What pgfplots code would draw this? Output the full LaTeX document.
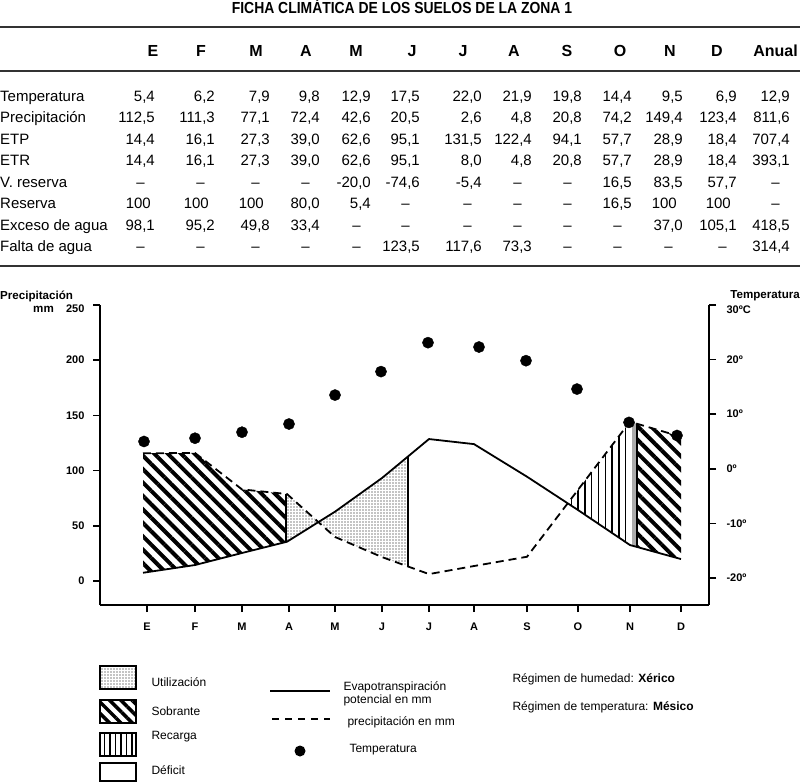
\documentclass[border=0pt]{standalone}
\usepackage{fontspec}
\setmainfont{Liberation Sans}
\newfontfamily\condfont{Liberation Sans}[FakeStretch=0.87]
\usepackage{pgfplots}
\usepackage{pgfplotstable}
\pgfplotsset{compat=1.18}
\usepgfplotslibrary{fillbetween}
\usetikzlibrary{patterns.meta}
\newcommand\fs[1]{\fontsize{#1}{#1}\selectfont}
\def\cols{{155,215,270,320,371,420,482,532,582,632,683,737,790}}
\newcommand\tabrow[3]{%
  \node[anchor=base west, inner sep=0] at (0,#1) {\fs{15}#2};
  \foreach \v/\dx [count=\i from 0] in {#3} {
    \pgfmathsetmacro\cx{\cols[\i]}
    \node[anchor=base east, inner sep=0] at (\cx+\dx,#1) {\fs{15}\v};
  }
}
\pgfplotstableread{
x etp prec
143 7.5 115.7
195 14.5 116
242 25.4 83
287 35.6 78.8
335 62.8 39.9
382 93.3 21.7
429 128.6 6.3
474 124.0 13.6
527 94.5 22
578 64.3 82.6
630 32.6 144.3
681 19.9 130.7
}\curves
\pgfplotstableread{
x t
144 5.0
195 5.6
242 6.7
289 8.2
335 13.5
381 17.8
428 23.1
479 22.3
526 19.8
577 14.6
629 8.5
677 6.1
}\temps
\begin{document}
\begin{tikzpicture}
\begin{scope}[x=1pt,y=-1pt]
\path[use as bounding box] (0,0) rectangle (803,783);
\node[anchor=base, inner sep=0] at (402,14) {\condfont\bfseries\fs{16}FICHA CLIMÁTICA DE LOS SUELOS DE LA ZONA 1};
\draw[line width=1.6pt, black!80] (0,27) -- (800,27);
\draw[line width=1.6pt, black!80] (0,71) -- (800,71);
\draw[line width=1.6pt, black!80] (0,266) -- (800,266);
\foreach \h/\x in {E/153,F/201,M/256,A/306,M/356,J/412,J/463,A/514,S/567,O/620,N/670,D/717}
  \node[anchor=base, inner sep=0] at (\x,57) {\fs{16}\bfseries\h};
\node[anchor=base east, inner sep=0] at (798,57) {\fs{16}\bfseries Anual};
\tabrow{101.3}{Temperatura}{{5,4}/0,{6,2}/0,{7,9}/0,{9,8}/0,{12,9}/0,{17,5}/0,{22,0}/0,{21,9}/0,{19,8}/0,{14,4}/0,{9,5}/0,{6,9}/0,{12,9}/0}
\tabrow{122.8}{Precipitación}{{112,5}/0,{111,3}/0,{77,1}/0,{72,4}/0,{42,6}/0,{20,5}/0,{2,6}/0,{4,8}/0,{20,8}/0,{74,2}/0,{149,4}/0,{123,4}/0,{811,6}/0}
\tabrow{144.3}{ETP}{{14,4}/0,{16,1}/0,{27,3}/0,{39,0}/0,{62,6}/0,{95,1}/0,{131,5}/0,{122,4}/0,{94,1}/0,{57,7}/0,{28,9}/0,{18,4}/0,{707,4}/0}
\tabrow{165.8}{ETR}{{14,4}/0,{16,1}/0,{27,3}/0,{39,0}/0,{62,6}/0,{95,1}/0,{8,0}/0,{4,8}/0,{20,8}/0,{57,7}/0,{28,9}/0,{18,4}/0,{393,1}/0}
\tabrow{187.3}{V. reserva}{–/-10,–/-10,–/-10,–/-10,{-20,0}/0,{-74,6}/0,{-5,4}/0,–/-10,–/-10,{16,5}/0,{83,5}/0,{57,7}/0,–/-10}
\tabrow{208.8}{Reserva}{100/-4,100/-6,100/-6,{80,0}/0,{5,4}/0,–/-10,–/-10,–/-10,–/-10,{16,5}/0,100/-6,100/-6,–/-10}
\tabrow{230.3}{Exceso de agua}{{98,1}/0,{95,2}/0,{49,8}/0,{33,4}/0,–/-10,–/-10,–/-10,–/-10,–/-10,–/-10,{37,0}/0,{105,1}/0,{418,5}/0}
\tabrow{251.8}{Falta de agua}{–/-10,–/-10,–/-10,–/-10,–/-10,{123,5}/0,{117,6}/0,{73,3}/0,–/-10,–/-10,–/-10,–/-10,{314,4}/0}
% axis titles
\node[anchor=west, inner sep=0] at (0,296) {\fs{11.6}\bfseries Precipitación};
\node[anchor=west, inner sep=0] at (33,309) {\fs{11.6}\bfseries mm};
\node[anchor=east, inner sep=0] at (800,296) {\fs{11.6}\bfseries Temperatura};
% legend
\draw[line width=1.3pt, pattern={Dots[distance=3pt,radius=0.6pt]}] (100,666) rectangle (136,689);
\draw[line width=1.3pt, pattern={Lines[angle=-45,distance=8pt,line width=3.5pt]}] (100,700) rectangle (136,723);
\draw[line width=1.3pt, pattern={Lines[angle=90,distance=5.5pt,line width=1.3pt]}] (100,733) rectangle (136,756);
\draw[line width=1.3pt] (100,763) rectangle (136,781);
\node[anchor=west] at (148,682) {\fs{12}Utilización};
\node[anchor=west] at (148,711) {\fs{12}Sobrante};
\node[anchor=west] at (148,737) {\fs{12}Recarga};
\node[anchor=west] at (148,770) {\fs{12}Déficit};
\draw[line width=1.8pt] (270,691) -- (330,691);
\draw[line width=1.8pt, dash pattern=on 7pt off 6pt] (272,719) -- (330,719);
\fill (300,751) circle (5.5);
\node[anchor=west] at (340,687) {\fs{12}Evapotranspiración};
\node[anchor=west] at (340,700) {\fs{12}potencial en mm};
\node[anchor=west] at (344,722) {\fs{12}precipitación en mm};
\node[anchor=west] at (346,750) {\fs{12}Temperatura};
\node[anchor=west] at (509,679) {\fs{12}Régimen de humedad: \textbf{Xérico}};
\node[anchor=west] at (509,707) {\fs{12}Régimen de temperatura: \textbf{Mésico}};
\end{scope}

\begin{axis}[
  at={(100pt,-605pt)}, anchor=south west, scale only axis,
  width=609pt, height=300pt,
  xmin=100, xmax=709, ymin=-21.7, ymax=250,
  axis x line*=bottom, axis y line*=left,
  axis line style={-, line width=1.8pt},
  xtick={147,195,242,289,335,382,429,474,527,578,630,681},
  xticklabels={E,F,M,A,M,J,J,A,S,O,N,D},
  ytick={0,50,100,150,200,250},
  yticklabels={0,50,100,150,200,\raisebox{-4pt}[8pt][0pt]{250}},
  tick align=outside, major tick length=7pt,
  tick style={line width=1.5pt, black},
  ticklabel style={font=\bfseries\fs{11}},
  xticklabel style={yshift=-7pt},
  yticklabel style={xshift=-5pt},
  clip=false,
]
\addplot[name path=etp, draw=none] table[x=x,y=etp]{\curves};
\addplot[name path=prec, draw=none] table[x=x,y=prec]{\curves};
\addplot[draw=none, pattern={Lines[angle=-45,distance=9.5pt,line width=4pt]}] fill between[of=prec and etp, soft clip={domain=143:286}];
\addplot[draw=none, pattern={Dots[distance=3pt,radius=0.6pt]}] fill between[of=prec and etp, soft clip={domain=286:408}];
\addplot[draw=none, pattern={Lines[angle=90,distance=6.8pt,line width=1.4pt]}] fill between[of=prec and etp, soft clip={domain=567.8:632}];
\addplot[draw=none, fill=gray!65] fill between[of=prec and etp, soft clip={domain=632:636}];
\addplot[draw=none, pattern={Lines[angle=-45,distance=9.5pt,line width=4pt]}] fill between[of=prec and etp, soft clip={domain=637:681}];
\addplot[black, line width=1.5pt] coordinates {(286,35.4) (286,78.9)};
\addplot[black, line width=1.5pt] coordinates {(408,112.8) (408,13.2)};
\addplot[black, line width=1.5pt] coordinates {(637,30.9) (637,142.4)};
\addplot[black, line width=1.8pt] table[x=x,y=etp]{\curves};
\addplot[black, line width=1.8pt, dash pattern=on 8pt off 5pt] table[x=x,y=prec]{\curves};
\end{axis}

\begin{axis}[
  at={(100pt,-605pt)}, anchor=south west, scale only axis,
  width=609pt, height=300pt,
  xmin=100, xmax=709, ymin=-24.95, ymax=30,
  axis x line=none, axis y line*=right,
  axis line style={-, line width=1.8pt},
  ytick={-20,-10,0,10,20,30},
  yticklabels={-20º,-10º,0º,10º,20º,\raisebox{-4pt}[8pt][0pt]{30ºC}},
  tick align=outside, major tick length=7pt,
  tick style={line width=1.5pt, black},
  ticklabel style={font=\bfseries\fs{11}},
  yticklabel style={xshift=7pt},
  clip=false,
]
\addplot[only marks, mark=*, mark size=5.6pt, black] table[x=x,y=t]{\temps};
\end{axis}
\end{tikzpicture}
\end{document}
